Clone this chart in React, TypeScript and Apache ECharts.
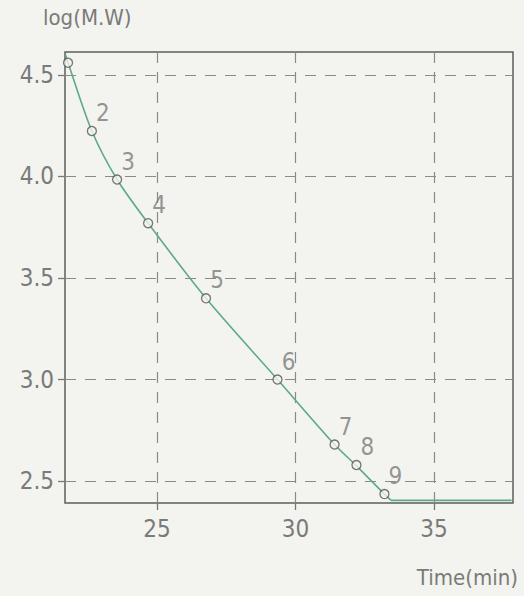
import React, { useEffect, useRef } from "react";
import * as echarts from "echarts";

// Measured points (Time in min, log of molecular weight)
const pointTimes = [21.79, 22.65, 23.56, 24.68, 26.77, 29.35, 31.41, 32.2, 33.21];
const pointLogMW = [4.56, 4.224, 3.985, 3.77, 3.40, 3.0, 2.68, 2.579, 2.436];
const pointLabels = ["", "2", "3", "4", "5", "6", "7", "8", "9"];

// Calibration curve
const curveTimes = [21.7, 21.79, 22.65, 23.56, 24.68, 26.77, 29.35, 31.41, 32.2, 33.21, 33.45];
const curveLogMW = [4.60, 4.56, 4.224, 3.985, 3.77, 3.40, 3.0, 2.68, 2.575, 2.436, 2.405];
// Flat tail of the curve
const tailTimes = [33.45, 37.8];
const tailLogMW = [2.405, 2.405];

const xTicks = [25, 30, 35];
const yTicks = [2.5, 3.0, 3.5, 4.0, 4.5];

const FONT = "'DejaVu Sans Condensed', 'Liberation Sans Narrow', 'DejaVu Sans', sans-serif";
const TEXT = "#7a7a7a";
const CURVE = "#5daa87";

export default function App() {
  const ref = useRef<HTMLDivElement>(null);
  useEffect(() => {
    if (!ref.current) return;
    const chart = echarts.init(ref.current, undefined, { renderer: "svg" });
    const pts = pointTimes.map((t, i) => [t, pointLogMW[i]]);
    const curve = curveTimes.map((t, i) => [t, curveLogMW[i]]);
    const tail = tailTimes.map((t, i) => [t, tailLogMW[i]]);
    chart.setOption({
      animation: false,
      backgroundColor: "#f3f3ef",
      textStyle: { fontFamily: FONT },
      grid: {
        left: 65,
        right: 11,
        top: 52,
        bottom: 93,
        show: true,
        borderColor: "#5e5e5e",
        borderWidth: 1.5,
        backgroundColor: "transparent",
      },
      xAxis: {
        type: "value",
        min: 21.68,
        max: 37.85,
        axisLine: { show: false },
        splitLine: { show: false },
        axisTick: { show: true, customValues: xTicks, length: 7, lineStyle: { color: "#777", width: 1.3 } },
        axisLabel: {
          customValues: xTicks,
          margin: 14,
          color: TEXT,
          fontSize: 24,
          fontFamily: FONT,
          formatter: (v: number) => String(v),
        },
      },
      yAxis: {
        type: "value",
        min: 2.392,
        max: 4.613,
        axisLine: { show: false },
        splitLine: { show: false },
        axisTick: { show: true, customValues: yTicks, length: 7, lineStyle: { color: "#777", width: 1.3 } },
        axisLabel: {
          customValues: yTicks,
          margin: 11,
          color: TEXT,
          fontSize: 24,
          fontFamily: FONT,
          formatter: (v: number) => v.toFixed(1),
        },
      },
      graphic: [
        {
          type: "text",
          left: 43,
          top: 6,
          style: { text: "log(M.W)", fill: TEXT, font: `22px ${FONT}` },
        },
        {
          type: "text",
          right: 6,
          top: 566,
          style: { text: "Time(min)", fill: TEXT, font: `22px ${FONT}` },
        },
      ],
      series: [
        {
          type: "line",
          data: curve,
          smooth: 0.3,
          showSymbol: false,
          symbol: "none",
          lineStyle: { color: CURVE, width: 1.6 },
          z: 3,
          markLine: {
            silent: true,
            symbol: "none",
            label: { show: false },
            lineStyle: { color: "#8a8a8a", type: [11, 9], width: 1.2 },
            data: [
              ...xTicks.map((v) => ({ xAxis: v })),
              ...yTicks.map((v) => ({ yAxis: v })),
            ],
            z: 1,
          },
        },
        {
          type: "line",
          data: tail,
          showSymbol: false,
          symbol: "none",
          lineStyle: { color: CURVE, width: 1.6 },
          z: 3,
        },
        {
          type: "scatter",
          data: pts,
          symbol: "circle",
          symbolSize: 9,
          itemStyle: { color: "#f3f3ef", borderColor: "#555", borderWidth: 1.3 },
          z: 4,
          label: {
            show: true,
            position: "inside",
            offset: [11, -18],
            color: TEXT,
            fontSize: 24,
            fontFamily: FONT,
            formatter: (p: any) => pointLabels[p.dataIndex],
          },
        },
      ],
    });
    return () => chart.dispose();
  }, []);
  return (
    <div
      ref={ref}
      style={{ position: "fixed", left: 0, top: 0, width: 524, height: 596, background: "#f3f3ef" }}
    />
  );
}
